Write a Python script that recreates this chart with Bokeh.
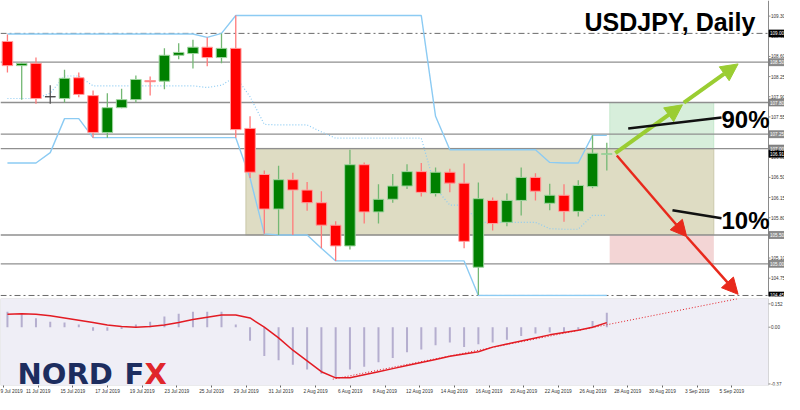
import numpy as np
from bokeh.plotting import figure
from bokeh.layouts import column
from bokeh.models import (ColumnDataSource, Range1d, FixedTicker, BoxAnnotation,
                          Label, Arrow, NormalHead, CustomJSTickFormatter)
from bokeh.core.properties import value
from bokeh.embed import file_html
from bokeh.resources import INLINE

# ---------------- data ----------------
dates = ["10 Jul", "11 Jul", "12 Jul", "15 Jul", "16 Jul", "17 Jul", "18 Jul", "19 Jul",
         "22 Jul", "23 Jul", "24 Jul", "25 Jul", "26 Jul", "29 Jul", "30 Jul", "31 Jul",
         "1 Aug", "2 Aug", "5 Aug", "6 Aug", "7 Aug", "8 Aug", "9 Aug", "12 Aug", "13 Aug",
         "14 Aug", "15 Aug", "16 Aug", "19 Aug", "20 Aug", "21 Aug", "22 Aug", "23 Aug",
         "26 Aug", "27 Aug", "28 Aug", "29 Aug", "30 Aug", "2 Sep", "3 Sep", "4 Sep", "5 Sep", "6 Sep"]
opens = [108.86, 108.44, 108.48, 107.90, 107.87, 108.23, 107.92, 107.28, 107.71, 107.85, 108.18,
         108.17, 108.62, 108.65, 108.76, 108.58, 108.74, 107.35, 106.55, 105.95, 106.46, 106.28,
         106.06, 105.67, 105.31, 106.72, 105.90, 106.12, 106.35, 106.60, 106.22, 106.59, 106.40,
         104.94, 106.10, 105.72, 106.10, 106.50, 106.05, 106.19, 105.91, 106.34, 106.90]
highs = [108.98, 108.50, 108.58, 108.10, 108.37, 108.32, 108.01, 107.96, 108.04, 108.27, 108.25,
         108.74, 108.83, 108.89, 108.93, 109.00, 109.31, 107.56, 106.62, 106.70, 106.58, 106.42,
         106.26, 105.74, 106.98, 106.76, 106.38, 106.56, 106.73, 106.75, 106.67, 106.65, 106.74,
         106.41, 106.15, 106.22, 106.67, 106.57, 106.39, 106.38, 106.45, 107.23, 107.10]
lows = [108.32, 107.85, 107.78, 107.78, 107.80, 107.89, 107.19, 107.19, 107.70, 107.80, 107.92,
        108.03, 108.55, 108.39, 108.43, 108.48, 107.19, 106.49, 105.52, 105.50, 105.50, 105.92,
        105.27, 105.05, 105.25, 105.70, 105.70, 106.06, 106.30, 106.17, 106.17, 106.24, 105.27,
        104.46, 105.58, 105.65, 105.84, 106.10, 105.93, 105.73, 105.82, 106.31, 106.62]
closes = [108.44, 108.48, 107.87, 107.90, 108.22, 107.94, 107.28, 107.71, 107.85, 108.20, 108.16,
          108.62, 108.67, 108.76, 108.58, 108.74, 107.33, 106.59, 105.95, 106.46, 106.28, 106.06,
          105.67, 105.31, 106.72, 105.90, 106.12, 106.35, 106.60, 106.24, 106.59, 106.40, 105.39,
          106.13, 105.70, 106.10, 106.50, 106.26, 106.19, 105.91, 106.36, 106.92, 106.91]

# price channel (upper / middle / lower)
ch_upper = [108.99] * 14 + [108.93, 109.00] + [109.31] * 14 + [107.56] + [106.98] * 7 + \
           [106.76, 106.75, 106.75, 107.23, 107.23]
ch_lower = [106.75] * 3 + [106.93] + [107.52] * 2 + [107.19] * 11 + [106.49, 105.52] + \
           [105.50] * 3 + [105.27] + [105.05] * 10 + [104.45] * 10
ch_middle = [107.87] * 3 + [107.96] + [108.26] * 2 + [108.09] * 8 + [108.06, 108.10, 108.25, 107.90,
             107.42] + [107.41] * 3 + [107.29] + [107.18] * 7 + [106.31] + [106.02] * 2 + \
            [105.72] * 5 + [105.61, 105.60, 105.60, 105.84, 105.84]

# oscillator (histogram + signal line)
osc_hist = [0.100, 0.088, 0.058, 0.035, 0.030, 0.018, -0.023, -0.023, -0.012, 0.018, 0.035,
            0.070, 0.088, 0.100, 0.100, 0.100, 0.018, -0.088, -0.187, -0.216, -0.245, -0.275,
            -0.304, -0.333, -0.275, -0.257, -0.228, -0.200, -0.164, -0.146, -0.117, -0.100,
            -0.129, -0.111, -0.100, -0.082, -0.058, -0.041, -0.035, -0.035, -0.018, 0.041, 0.094]
osc_signal = [0.085, 0.088, 0.085, 0.075, 0.060, 0.045, 0.030, 0.015, 0.005, 0.000, 0.005,
              0.015, 0.030, 0.050, 0.065, 0.080, 0.080, 0.060, 0.000, -0.070, -0.150, -0.220,
              -0.290, -0.330, -0.330, -0.310, -0.290, -0.270, -0.250, -0.230, -0.210, -0.190,
              -0.175, -0.160, -0.130, -0.110, -0.090, -0.070, -0.050, -0.035, -0.020, 0.000, 0.030]

# horizontal levels and scale texts
level_solid = [108.50, 107.80, 107.25, 107.00, 105.50, 105.00]
level_dashdot = [109.00, 104.45]
box_levels = [107.00, 105.50]          # consolidation range
up_zone = [107.00, 107.80]
down_zone = [105.00, 105.50]
price_ticks = [104.75, 105.10, 105.80, 106.15, 106.50, 106.85, 107.55, 107.90, 108.25,
               108.60, 108.95, 109.30]
gray_tags = [108.50, 107.80, 107.25, 107.00, 105.50, 105.00]
black_tags = [109.00, 106.91, 104.45]
osc_ticks = [0.152, 0.0, -0.37]
osc_tick_labels = ["0.152", "0.00", "-0.37"]
date_labels = ["9 Jul 2019", "11 Jul 2019", "15 Jul 2019", "17 Jul 2019", "19 Jul 2019",
               "23 Jul 2019", "25 Jul 2019", "29 Jul 2019", "31 Jul 2019", "2 Aug 2019",
               "6 Aug 2019", "8 Aug 2019", "12 Aug 2019", "14 Aug 2019", "16 Aug 2019",
               "20 Aug 2019", "22 Aug 2019", "26 Aug 2019", "28 Aug 2019", "30 Aug 2019",
               "3 Sep 2019", "5 Sep 2019"]
title_text = "USDJPY, Daily"
prob_up = "90%"
prob_down = "10%"

# ---------------- layout helpers ----------------
n = len(opens)
idx = np.arange(n)
o = np.array(opens); c = np.array(closes)
W = 784                       # canvas width
X0 = -0.486                   # bar coordinate at the left edge
X_AXIS = 53.33                # bar coordinate of the price-scale line
BPP = (X_AXIS - X0) / 768     # bars per pixel
XR = Range1d(X0, X0 + W * BPP)
def bx(px):                   # bar coordinate at a pixel column
    return X0 + px * BPP
PPP = 1 / 57.6                # price per pixel
label_step = 35 / 14.4        # date labels every 35px, bars 14.4px apart
date_ticks = [(-4 / 14.4) + k * label_step for k in range(len(date_labels))]
zone_left = n - 1 + 0.2
zone_right = 49.5
box_left = 16.7
TXT = value("Liberation Sans")

GREEN = "#008000"; RED = "#ff0000"
fill = np.where(c > o, GREEN, np.where(c < o, RED, "#444444"))
edge = np.where(c > o, "#9fd49f", np.where(c < o, "#ff9f9f", "#444444"))
wick = np.where(c > o, "#74b874", np.where(c < o, "#ff7a7a", "#555555"))
src = ColumnDataSource(dict(x=idx, h=highs, l=lows, top=np.maximum(o, c), bot=np.minimum(o, c),
                            fill=fill, edge=edge, wick=wick))

# ---------------- price panel ----------------
y_top = 109.571
def py(px):                    # price at a given pixel row of the price panel
    return y_top - px * PPP

p = figure(frame_width=W, frame_height=296, x_range=XR, y_range=Range1d(py(296), y_top),
           output_backend="svg", toolbar_location=None, x_axis_location=None,
           y_axis_location=None, min_border_left=0, min_border_top=0, min_border_bottom=1,
           min_border_right=0)
p.outline_line_color = None
p.grid.visible = False

# zones
p.add_layout(BoxAnnotation(left=box_left, right=zone_right, bottom=box_levels[1], top=box_levels[0],
                           fill_color="#dedcc3", fill_alpha=1, line_color="#a9a77c", line_width=1.5,
                           level="underlay"))
p.add_layout(BoxAnnotation(left=zone_left, right=zone_right, bottom=up_zone[0], top=up_zone[1],
                           fill_color="#d7eedb", fill_alpha=1, line_color="#86cf96", line_width=1,
                           level="underlay"))
p.add_layout(BoxAnnotation(left=zone_left, right=zone_right, bottom=down_zone[0], top=down_zone[1],
                           fill_color="#f3d5d5", fill_alpha=1, line_color=None, level="underlay"))
p.segment(x0=X0, x1=X_AXIS, y0=level_solid, y1=level_solid, line_color="#8f8f8f", line_width=1.3)
p.segment(x0=X0, x1=X_AXIS, y0=level_dashdot, y1=level_dashdot, line_color="#6a6a6a",
          line_width=1, line_dash="6 3 2 3")

# price channel
p.line(idx, ch_upper, line_color="#8ccbf3", line_width=1.4)
p.line(idx, ch_lower, line_color="#8ccbf3", line_width=1.4)
p.line(idx, ch_middle, line_color="#8ccbf3", line_width=1.2, line_dash="1 2")

# candles
p.segment(x0="x", y0="l", x1="x", y1="h", line_color="wick", line_width=1.3, source=src)
p.vbar(x="x", width=0.74, top="top", bottom="bot", fill_color="fill", line_color="edge",
       line_width=1, source=src)

# price scale (drawn by hand so the level tags can sit on it)
p.segment(x0=X_AXIS, x1=X_AXIS, y0=py(296), y1=y_top, line_color="#8a8a8a", line_width=1)
p.segment(x0=X_AXIS, x1=X_AXIS + 2 * BPP, y0=price_ticks, y1=price_ticks, line_color="#8a8a8a")
p.text(x=X_AXIS + 2.5 * BPP, y=price_ticks, text=["%.2f" % t for t in price_ticks],
       text_font=TXT, text_font_size="4.6px", text_baseline="middle", text_color="#333333")
p.quad(left=X_AXIS + 0.5 * BPP, right=X_AXIS + 16 * BPP,
       bottom=[t - 3.5 * PPP for t in gray_tags], top=[t + 3.5 * PPP for t in gray_tags],
       fill_color="#8c8c8c", line_color="#6a6a6a", line_width=0.6)
p.quad(left=X_AXIS + 0.5 * BPP, right=X_AXIS + 16 * BPP,
       bottom=[t - 3.5 * PPP for t in black_tags], top=[t + 3.5 * PPP for t in black_tags],
       fill_color="#000000", line_color="#000000", line_width=0.6)
p.text(x=X_AXIS + 1.5 * BPP, y=gray_tags + black_tags,
       text=["%.2f" % t for t in gray_tags + black_tags], text_font=TXT,
       text_font_size="4.6px", text_baseline="middle", text_color="white")

# arrows
def arrow(fig, x0, y0, x1, y1, col, w=4, head=True, dash="solid", size=16):
    a = Arrow(end=NormalHead(size=size, fill_color=col, line_color=col) if head else None,
              x_start=x0, y_start=y0, x_end=x1, y_end=y1, line_color=col, line_width=w,
              line_dash=dash)
    fig.add_layout(a)

arrow(p, 42.6, 106.92, 47.3, 107.76, "#9acd32", size=17)
arrow(p, 47.4, 107.80, 51.2, 108.47, "#9acd32", size=17)
arrow(p, 42.7, 106.88, 47.6, 105.47, "#e8291c", w=2.5)
arrow(p, 47.6, 105.47, 51.2, 104.47, "#e8291c", w=2.5)
arrow(p, 43.5, 107.35, bx(721), 107.54, "#111111", w=2.5, head=False)
arrow(p, 46.6, 105.93, bx(721), 105.79, "#111111", w=2.5, head=False)

# texts (bottom of the text box sits ~0.2 em below the baseline)
p.add_layout(Label(x=bx(584), y=py(35), text=title_text, text_font="Liberation Sans",
                   text_font_style="bold", text_font_size="25px", text_color="#000000"))
p.add_layout(Label(x=bx(721), y=py(132), text=prob_up, text_font="Liberation Sans",
                   text_font_style="bold", text_font_size="24px", text_color="#000000"))
p.add_layout(Label(x=bx(721), y=py(233), text=prob_down, text_font="Liberation Sans",
                   text_font_style="bold", text_font_size="24px", text_color="#000000"))

# ---------------- oscillator panel ----------------
OY0, OY1 = -0.380, 0.187
OPX = 87
def oy(px):                    # oscillator value at a pixel row of the oscillator frame
    return OY1 - px * (OY1 - OY0) / OPX

q = figure(frame_width=W, frame_height=OPX, x_range=XR, y_range=Range1d(OY0, OY1),
           output_backend="svg", toolbar_location=None, y_axis_location=None,
           min_border_left=0, min_border_top=1, min_border_bottom=0, min_border_right=0)
q.outline_line_color = None
q.grid.visible = False
q.add_layout(BoxAnnotation(right=X_AXIS, fill_color="#efeef6", fill_alpha=1, line_color="#8a8a8a",
                           line_width=1, level="underlay"))
q.vbar(x=idx, top=osc_hist, bottom=0, width=0.14, fill_color="#b5aecf", line_color=None)
q.line(idx, osc_signal, line_color="#e31b23", line_width=1.5)
arrow(q, 22.8, -0.339, 51.25, OY1, "#e31b23", w=1, head=False, dash="1 2")

q.segment(x0=X_AXIS, x1=X_AXIS + 2 * BPP, y0=osc_ticks, y1=osc_ticks, line_color="#8a8a8a")
q.text(x=X_AXIS + 2.5 * BPP, y=osc_ticks, text=osc_tick_labels, text_font=TXT,
       text_font_size="4.6px", text_baseline="middle", text_color="#333333")

qx = q.xaxis[0]
qx.ticker = FixedTicker(ticks=date_ticks)
qx.formatter = CustomJSTickFormatter(args=dict(t=date_ticks, l=date_labels), code="""
let b = 0; for (let k = 0; k < t.length; k++) { if (Math.abs(t[k]-tick) < Math.abs(t[b]-tick)) b = k; }
return l[b];""")
qx.major_label_text_align = "left"
qx.major_label_text_font_size = "4.8px"
qx.major_label_text_font = "Liberation Sans"
qx.major_label_text_color = "#333333"
qx.major_tick_out = 2; qx.major_tick_in = 0; qx.minor_tick_out = 0; qx.minor_tick_in = 0
qx.major_label_standoff = 1
qx.axis_line_color = None
qx.major_tick_line_color = "#666666"

# logo (letters between rows ~64 and ~85 of the oscillator frame)
for txt, px, col in (("NORD", 17, "#1d2d5f"), ("F", 124, "#1d2d5f"), ("X", 144, "#e0262b")):
    q.add_layout(Label(x=bx(px), y=oy(92), text=txt, text_font="DejaVu Sans", text_font_style="bold",
                       text_font_size="29px", text_color=col))

layout = column(p, q, spacing=0)
open("out.html", "w").write(file_html(layout, INLINE))
